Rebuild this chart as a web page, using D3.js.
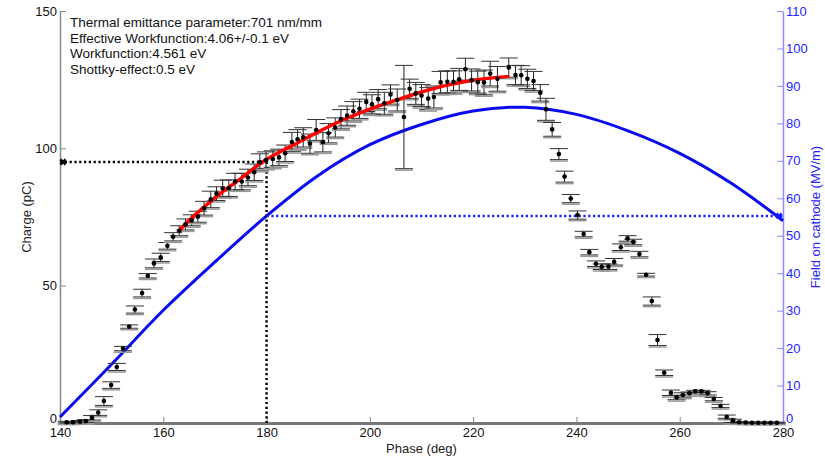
<!DOCTYPE html>
<html>
<head>
<meta charset="utf-8">
<script src="https://cdn.jsdelivr.net/npm/d3@7"></script>
<style>
  body { margin: 0; background: #fff; }
  svg text { font-family: "Liberation Sans", Arial, sans-serif; }
</style>
</head>
<body>
<svg width="825" height="458"></svg>
<script>
// measured charge vs phase
var phase = [141.3, 142.5, 143.9, 145.0, 146.2, 147.4, 148.5, 149.9, 151.0, 152.2,
  153.4, 154.5, 155.9, 157.0, 158.2, 159.5, 160.8, 161.9, 163.1, 164.3,
  165.5, 166.7, 167.9, 169.2, 170.3, 171.5, 172.7, 173.9, 175.2, 176.4,
  177.6, 178.7, 179.9, 181.2, 182.4, 183.6, 184.9, 186.0, 187.1, 188.4,
  189.6, 190.9, 192.0, 193.3, 194.4, 195.6, 196.8, 198.0, 199.3, 200.4,
  201.6, 202.8, 204.0, 205.3, 206.6, 207.7, 208.9, 210.0, 211.3, 212.4,
  213.7, 215.0, 216.2, 217.3, 218.5, 219.7, 220.9, 222.1, 223.3, 224.7,
  226.9, 228.2, 229.3, 230.5, 231.7, 233.0, 234.1, 235.3, 236.6, 237.7,
  238.9, 240.2, 241.4, 242.5, 243.8, 244.9, 246.2, 247.3, 248.6, 249.9,
  251.0, 252.2, 253.5, 254.6, 255.7, 257.0, 258.3, 259.4, 260.6, 261.9,
  263.0, 264.2, 265.4, 266.6, 267.9, 269.1, 270.3, 271.5, 272.8, 274.0,
  275.2, 276.4, 277.6, 278.8];
var charge = [0.3, 0.3, 0.5, 0.7, 1.9, 3.8, 8.0, 13.8, 20.4, 27.1,
  35.1, 41.3, 47.3, 53.6, 58.1, 60.3, 64.5, 67.8, 70.0, 72.3,
  73.8, 75.1, 78.2, 81.4, 83.5, 85.4, 85.5, 87.9, 87.9, 89.4,
  91.3, 95.0, 95.7, 96.1, 96.7, 98.2, 102.3, 103.3, 104.0, 101.7,
  106.7, 102.2, 105.5, 107.6, 110.6, 111.9, 113.5, 114.4, 116.9, 116.0,
  117.9, 116.4, 119.6, 117.6, 111.4, 121.7, 120.0, 119.2, 118.1, 118.7,
  124.0, 124.2, 124.2, 125.1, 128.8, 124.9, 124.1, 124.0, 127.2, 125.3,
  129.4, 126.7, 126.6, 125.3, 124.5, 120.2, 114.2, 106.9, 97.9, 89.7,
  81.7, 75.7, 68.8, 62.2, 58.0, 56.9, 56.9, 58.7, 64.0, 67.2,
  65.9, 61.5, 54.0, 44.4, 30.2, 18.3, 11.0, 9.3, 10.2, 10.8,
  11.5, 11.5, 10.8, 8.7, 6.2, 2.3, 0.8, 0.3, 0.2, 0.1,
  0.1, 0.1, 0.1, 0.1];
var chargeErr = [0.3, 0.3, 0.4, 0.5, 0.8, 1.0, 1.6, 1.2, 1.3, 0.8,
  0.6, 1.3, 1.4, 0.8, 1.6, 1.5, 1.2, 1.5, 1.8, 2.0,
  2.0, 2.0, 2.5, 3.0, 2.5, 3.0, 3.0, 3.0, 3.0, 3.0,
  3.0, 3.0, 3.0, 3.0, 3.0, 3.0, 3.5, 3.5, 3.5, 3.5,
  3.8, 3.5, 3.5, 3.5, 3.5, 3.5, 3.5, 3.5, 3.5, 3.5,
  3.5, 4.0, 3.5, 4.0, 18.8, 3.5, 4.0, 4.0, 4.0, 4.0,
  4.0, 4.0, 4.0, 4.0, 4.0, 4.0, 4.0, 4.5, 4.5, 4.5,
  3.5, 3.5, 3.5, 3.5, 3.5, 3.0, 4.0, 2.5, 2.0, 2.0,
  1.5, 1.5, 1.0, 1.0, 1.0, 1.0, 1.0, 1.2, 1.2, 1.0,
  1.0, 1.0, 0.5, 1.5, 2.0, 1.0, 1.0, 0.8, 0.8, 0.5,
  0.4, 0.4, 0.6, 0.6, 0.6, 0.6, 0.6, 0.3, 0.2, 0.2,
  0.2, 0.2, 0.2, 0.2];

// fitted charge curve (red)
var fitPhase = [163, 166, 170, 175, 180, 185, 190, 195, 200, 205, 210, 215, 220, 227];
var fitCharge = [70, 75.5, 82, 89, 96, 101, 106, 110.5, 114.3, 117.5, 120.5, 123, 124.8, 126.2];

// field on cathode (blue, right axis)
var fieldPhase = [140, 150, 160, 170, 180, 190, 200, 210, 220, 230, 240, 250, 260, 270, 280];
var field = [1.6, 15.7, 30.1, 43, 55.3, 66.1, 74.3, 79.7, 83.3, 84.3, 82.4, 78, 72, 64, 54];

// operating point guides
var opPhase = 180, opCharge = 95.0, opField = 55.3;

var xTicks = [140, 160, 180, 200, 220, 240, 260, 280];
var yTicks = [0, 50, 100, 150];
var y2Ticks = [0, 10, 20, 30, 40, 50, 60, 70, 80, 90, 100, 110];

var notes = ["Thermal emittance parameter:701 nm/mm",
  "Effective Workfunction:4.06+/-0.1 eV",
  "Workfunction:4.561 eV",
  "Shottky-effect:0.5 eV"];

var svg = d3.select("svg");
var plotL = 60, plotR = 783, plotT = 11, plotB = 423;

var x = d3.scaleLinear().domain([140, 280]).range([plotL, plotR]);
var y = d3.scaleLinear().domain([0, 150]).range([plotB, plotT]);
var y2 = d3.scaleLinear().domain([0, 110]).range([plotB, plotT]);

// axes
var gx = svg.append("g").attr("transform", "translate(0," + plotB + ")")
  .call(d3.axisBottom(x).tickValues(xTicks).tickSize(-6).tickSizeOuter(0).tickPadding(5));
gx.select(".domain").attr("stroke", "#777").attr("stroke-width", 3);
gx.selectAll(".tick line").attr("stroke", "#888");
gx.selectAll(".tick text").attr("font-size", "13px").attr("fill", "#111");

var gy = svg.append("g").attr("transform", "translate(" + plotL + ",0)")
  .call(d3.axisLeft(y).tickValues(yTicks).tickSize(-6).tickSizeOuter(0).tickPadding(3));
gy.select(".domain").attr("stroke", "#888").attr("stroke-width", 1.5);
gy.selectAll(".tick line").attr("stroke", "#888");
gy.selectAll(".tick text").attr("font-size", "13px").attr("fill", "#111");

var gy2 = svg.append("g").attr("transform", "translate(" + plotR + ",0)")
  .call(d3.axisRight(y2).tickValues(y2Ticks).tickSize(-6).tickSizeOuter(0).tickPadding(3));
gy2.select(".domain").attr("stroke", "#8c8cff").attr("stroke-width", 1.5);
gy2.selectAll(".tick line").attr("stroke", "#8c8cff");
gy2.selectAll(".tick text").attr("font-size", "13px").attr("fill", "#2323ff");

// lift the two zero labels so they clear the phase labels
gy.selectAll(".tick").filter(function(d){ return d === 0; }).select("text").attr("dy", "-0.05em");
gy2.selectAll(".tick").filter(function(d){ return d === 0; }).select("text").attr("dy", "-0.05em");

svg.append("text").attr("x", (plotL + plotR) / 2).attr("y", 453)
  .attr("text-anchor", "middle").attr("font-size", "13px").attr("fill", "#222")
  .text("Phase (deg)");
svg.append("text").attr("transform", "translate(31," + (plotB + plotT) / 2 + ") rotate(-90)")
  .attr("text-anchor", "middle").attr("font-size", "13px").attr("fill", "#222")
  .text("Charge (pC)");
svg.append("text").attr("transform", "translate(820," + (plotB + plotT) / 2 + ") rotate(-90)")
  .attr("text-anchor", "middle").attr("font-size", "13px").attr("fill", "#2323ff")
  .text("Field on cathode (MV/m)");

// field curve
svg.append("path")
  .datum(d3.zip(fieldPhase, field))
  .attr("fill", "none").attr("stroke", "#0a0aee").attr("stroke-width", 3)
  .attr("d", d3.line().x(function(d){ return x(d[0]); }).y(function(d){ return y2(d[1]); })
    .curve(d3.curveCatmullRom));

// guide lines
svg.append("path")
  .attr("d", "M" + x(140) + "," + y(opCharge) + "H" + x(opPhase) + "V" + y(0))
  .attr("fill", "none").attr("stroke", "#000").attr("stroke-width", 2.5)
  .attr("stroke-dasharray", "2.2,2.6");
svg.append("path")
  .attr("d", "M" + x(opPhase) + "," + y2(opField) + "H" + x(280))
  .attr("fill", "none").attr("stroke", "#1a1aff").attr("stroke-width", 2.5)
  .attr("stroke-dasharray", "2.2,2.6");
svg.append("path")
  .attr("transform", "translate(" + (x(140) + 3) + "," + y(opCharge) + ") rotate(45)")
  .attr("d", d3.symbol().type(d3.symbolCross).size(30)())
  .attr("fill", "#000");
svg.append("path")
  .attr("transform", "translate(" + (x(280) - 4) + "," + y2(opField) + ") rotate(45)")
  .attr("d", d3.symbol().type(d3.symbolCross).size(30)())
  .attr("fill", "#1a1aff");

// error bars
var pts = d3.range(phase.length).map(function(i){
  return {p: phase[i], c: charge[i], e: chargeErr[i]};
});
var eb = svg.append("g").selectAll("g").data(pts).enter().append("g");
eb.append("line")
  .attr("x1", function(d){ return x(d.p); }).attr("x2", function(d){ return x(d.p); })
  .attr("y1", function(d){ return y(d.c + d.e); }).attr("y2", function(d){ return y(d.c - d.e); })
  .attr("stroke", "#222").attr("stroke-width", 1);
eb.append("line")
  .attr("x1", function(d){ return x(d.p) - 9; }).attr("x2", function(d){ return x(d.p) + 9; })
  .attr("y1", function(d){ return y(d.c + d.e); }).attr("y2", function(d){ return y(d.c + d.e); })
  .attr("stroke", "#333").attr("stroke-width", 1);
eb.append("line")
  .attr("x1", function(d){ return x(d.p) - 9; }).attr("x2", function(d){ return x(d.p) + 9; })
  .attr("y1", function(d){ return y(d.c - d.e) + 1.5; }).attr("y2", function(d){ return y(d.c - d.e) + 1.5; })
  .attr("stroke", "#999").attr("stroke-width", 1.5);
eb.append("line")
  .attr("x1", function(d){ return x(d.p) - 9; }).attr("x2", function(d){ return x(d.p) + 9; })
  .attr("y1", function(d){ return y(d.c - d.e); }).attr("y2", function(d){ return y(d.c - d.e); })
  .attr("stroke", "#333").attr("stroke-width", 1);

// fit curve
svg.append("path")
  .datum(d3.zip(fitPhase, fitCharge))
  .attr("fill", "none").attr("stroke", "#f00").attr("stroke-width", 3.5)
  .attr("d", d3.line().x(function(d){ return x(d[0]); }).y(function(d){ return y(d[1]); })
    .curve(d3.curveCatmullRom));

// points
svg.append("g").selectAll("circle").data(pts).enter().append("circle")
  .attr("cx", function(d){ return x(d.p); })
  .attr("cy", function(d){ return y(d.c); })
  .attr("r", 2.3).attr("fill", "#000");

// annotation
svg.append("g").selectAll("text").data(notes).enter().append("text")
  .attr("x", 70).attr("y", function(d, i){ return 27 + i * 15.5; })
  .attr("font-size", "13.5px").attr("fill", "#111")
  .text(function(d){ return d; });
</script>
</body>
</html>
